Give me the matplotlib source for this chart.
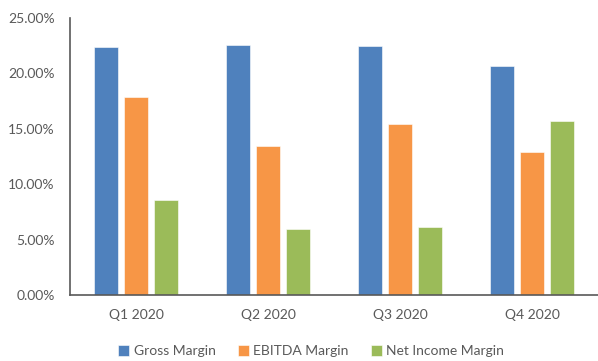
import numpy as np
import matplotlib.pyplot as plt
from matplotlib.ticker import PercentFormatter

# quarterly margins, in percent
quarters = ["Q1 2020", "Q2 2020", "Q3 2020", "Q4 2020"]
gross_margin = [22.41, 22.56, 22.47, 20.70]
ebitda_margin = [17.84, 13.42, 15.41, 12.91]
net_income_margin = [8.55, 5.96, 6.14, 15.68]

series = [
    ("Gross Margin", gross_margin, "#4F81BD"),
    ("EBITDA Margin", ebitda_margin, "#F79646"),
    ("Net Income Margin", net_income_margin, "#9BBB59"),
]

plt.rcParams['font.family'] = ['Lato', 'DejaVu Sans']
text_color = "#595959"

fig = plt.figure(figsize=(5.98, 3.61), dpi=100)
ax = fig.add_axes([0.117, 0.183, 0.883, 0.767])

x = np.arange(len(quarters))
bar_w = 0.18
step = 0.225
for i, (name, vals, col) in enumerate(series):
    ax.bar(x + (i - 1) * step, vals, width=bar_w, color=col,
           edgecolor="white", linewidth=0.4, label=name, zorder=2)

ax.set_xlim(-0.5, len(quarters) - 0.5)
ax.set_ylim(0, 25)
ax.set_yticks(np.arange(0, 26, 5))
ax.yaxis.set_major_formatter(PercentFormatter(decimals=2))
ax.set_xticks(x)
ax.set_xticklabels(quarters)

ax.tick_params(axis="y", length=0, pad=11, labelsize=10, labelcolor=text_color)
ax.tick_params(axis="x", length=0, pad=10, labelsize=10, labelcolor=text_color)

for side in ["top", "right"]:
    ax.spines[side].set_visible(False)
for side in ["left", "bottom"]:
    ax.spines[side].set_color(text_color)
    ax.spines[side].set_linewidth(1.2)

leg = fig.legend(loc="center", bbox_to_anchor=(0.52, 0.027), ncol=3, frameon=False,
                 fontsize=10, handlelength=0.8, handleheight=0.8, handletextpad=0.3,
                 columnspacing=1.6)
for t in leg.get_texts():
    t.set_color(text_color)

fig.savefig("out.png", dpi=100)
